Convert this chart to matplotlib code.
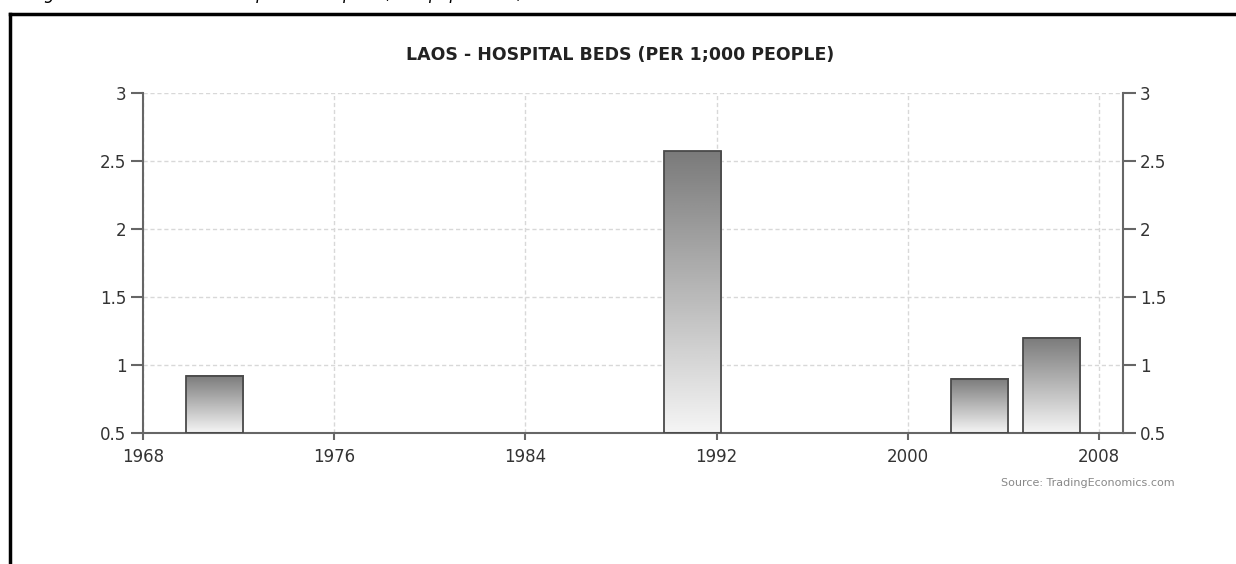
import numpy as np
import matplotlib
matplotlib.use('Agg')
import matplotlib.pyplot as plt
from matplotlib.lines import Line2D

# データ
years = [1971, 1991, 2003, 2006]
beds = [0.92, 2.57, 0.90, 1.20]
bar_width = 2.4
y_ticks = [0.5, 1, 1.5, 2, 2.5, 3]
y_labels = ['0.5', '1', '1.5', '2', '2.5', '3']
x_ticks = [1968, 1976, 1984, 1992, 2000, 2008]

title = 'LAOS - HOSPITAL BEDS (PER 1;000 PEOPLE)'
source = 'Source: TradingEconomics.com'

fig = plt.figure(figsize=(12.36, 5.64), dpi=100)
ax = fig.add_axes([143 / 1236, 1 - 433 / 564, 980 / 1236, 340 / 564])

ymin, ymax = 0.5, 3

# グラデーションの棒
grad = np.linspace(0.96, 0.48, 256).reshape(-1, 1)
for x, v in zip(years, beds):
    x0, x1 = x - bar_width / 2, x + bar_width / 2
    ax.imshow(grad, extent=(x0, x1, ymin, v), origin='lower', cmap='gray',
              vmin=0, vmax=1, aspect='auto', zorder=2, interpolation='bicubic')
    ax.bar(x, v - ymin, bottom=ymin, width=bar_width, facecolor='none',
           edgecolor='#4a4a4a', linewidth=1.3, zorder=3)

ax.set_xlim(1968, 2009)
ax.set_ylim(ymin, ymax)

# グリッド
ax.grid(True, color='#d8d8d8', linestyle=(0, (3, 2)), linewidth=1)
ax.set_axisbelow(True)

for s in ['left', 'right', 'bottom']:
    ax.spines[s].set_color('#666666')
    ax.spines[s].set_linewidth(1.5)
ax.spines['top'].set_visible(False)

ax.set_xticks(x_ticks)
ax.set_xticklabels([str(t) for t in x_ticks])
ax.set_yticks(y_ticks)
ax.set_yticklabels(y_labels)
ax.tick_params(axis='x', direction='out', length=5, width=1.5, color='#666666',
               labelsize=12, labelcolor='#333333', pad=6)
ax.tick_params(axis='y', direction='out', length=9, width=1.5, color='#666666',
               labelsize=12, labelcolor='#333333', pad=3, right=True,
               labelright=True)

fig.text(620 / 1236, 1 - 55 / 564, title, ha='center', va='center',
         fontsize=12.5, fontweight='bold', color='#222222')
fig.text(1175 / 1236, 1 - 483 / 564, source, ha='right', va='center',
         fontsize=8, color='#888888')

# 上で切れている図のキャプション
fig.text(30 / 1236, 1 + 1 / 564, 'Figure 5.4', ha='left', va='baseline',
         fontsize=12, style='italic', color='black')
fig.text(225 / 1236, 1 + 1 / 564,
         'Hospital beds per 1,000 population, 1960-2008', ha='left',
         va='baseline', fontsize=12, style='italic', color='black')

# 枠線
fig.add_artist(Line2D([9.5 / 1236, 9.5 / 1236], [0, 1 - 14 / 564],
                      color='black', linewidth=2.5, solid_capstyle='projecting'))
fig.add_artist(Line2D([9.5 / 1236, 1], [1 - 14 / 564, 1 - 14 / 564],
                      color='black', linewidth=2.5, solid_capstyle='projecting'))

fig.savefig('out.png', dpi=100)
